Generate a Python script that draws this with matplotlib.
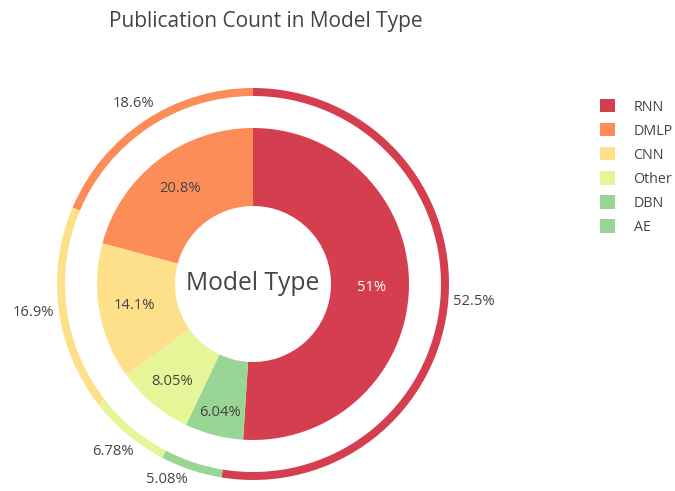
import numpy as np
import matplotlib.pyplot as plt
from matplotlib.patches import Patch

# inner ring: publication count share, outer ring: second breakdown
inner_labels = ['RNN', 'DMLP', 'CNN', 'Other', 'DBN']
inner_values = [51.0, 20.8, 14.1, 8.05, 6.04]
outer_labels = ['RNN', 'DMLP', 'CNN', 'Other', 'AE']
outer_values = [52.5, 18.6, 16.9, 6.78, 5.08]
legend_labels = ['RNN', 'DMLP', 'CNN', 'Other', 'DBN', 'AE']
colors = {'RNN': '#d53e4f', 'DMLP': '#fc8d59', 'CNN': '#fee08b',
          'Other': '#e6f598', 'DBN': '#99d594', 'AE': '#99d594'}

plt.rcParams['font.family'] = ['Open Sans', 'DejaVu Sans']
txt = '#444444'

fig = plt.figure(figsize=(6.75, 4.91), dpi=100)
ax = fig.add_axes([0, 0, 1, 1])

cx, cy = 253, 491 - 284

def fmt(v):
    return ('%.3g' % v) + '%'

def start(vals):
    # first slice ends at 12 o'clock, rest continue counterclockwise
    return 90 - 360 * vals[0] / sum(vals)

# outer thin ring
w, _ = ax.pie(outer_values, colors=[colors[l] for l in outer_labels],
              startangle=start(outer_values), counterclock=True, center=(cx, cy), radius=196,
              wedgeprops=dict(width=8, linewidth=0), frame=True)
# inner donut
w2, _ = ax.pie(inner_values, colors=[colors[l] for l in inner_labels],
               startangle=start(inner_values), counterclock=True, center=(cx, cy), radius=156,
               wedgeprops=dict(width=78, linewidth=0), frame=True)
ax.set_xlim(0, 675)
ax.set_ylim(0, 491)
ax.set_aspect('equal')
ax.axis('off')

inner_r = [0.76, 0.77, 0.77, 0.81, 0.85]
for wedge, lab, v, rr in zip(w2, inner_labels, inner_values, inner_r):
    ang = np.deg2rad((wedge.theta1 + wedge.theta2) / 2)
    x = cx + 156 * rr * np.cos(ang)
    y = cy + 156 * rr * np.sin(ang)
    c = 'white' if lab == 'RNN' else txt
    ax.text(x, y, fmt(v), ha='center', va='center', fontsize=10.6, color=c)

outer_r = [1.13, 1.105, 1.13, 1.115, 1.05]
outer_ha = ['center', 'center', 'center', 'center', 'right']
for wedge, v, rr, ha in zip(w, outer_values, outer_r, outer_ha):
    ang = np.deg2rad((wedge.theta1 + wedge.theta2) / 2)
    x = cx + 196 * rr * np.cos(ang)
    y = cy + 196 * rr * np.sin(ang)
    ax.text(x, y, fmt(v), ha=ha, va='center', fontsize=10.6, color=txt)

ax.text(cx, cy, 'Model Type', ha='center', va='center', fontsize=17.7, color=txt)
ax.text(266, 491 - 21, 'Publication Count in Model Type', ha='center', va='center',
        fontsize=15, color=txt)

handles = [Patch(facecolor=colors[l], edgecolor='none', label=l) for l in legend_labels]
leg = fig.legend(handles=handles, loc='upper left', bbox_to_anchor=(600 / 675, 1 - 99 / 491),
                 frameon=False, fontsize=10.3, handlelength=1.05, handleheight=1.05,
                 labelspacing=0.6, handletextpad=1.3, borderpad=0, borderaxespad=0)
for t in leg.get_texts():
    t.set_color(txt)

fig.savefig('out.png', dpi=100)
